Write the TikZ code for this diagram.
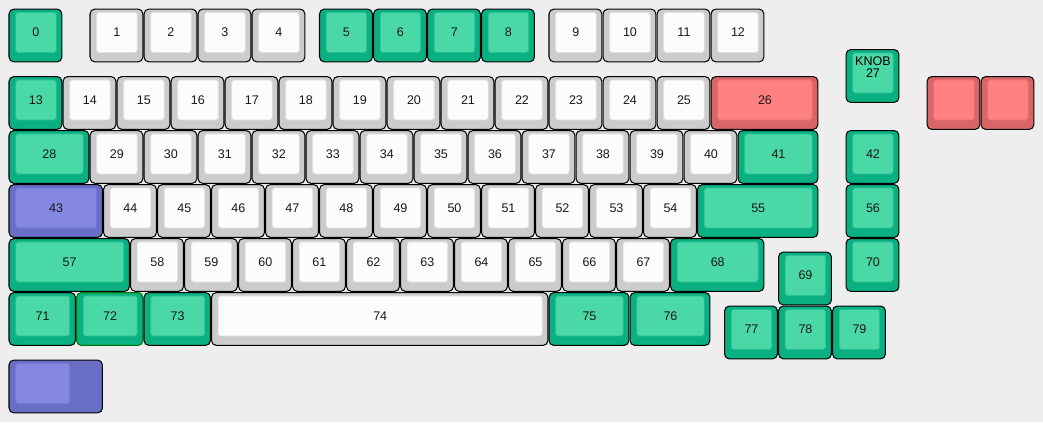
\documentclass[tikz,border=0pt]{standalone}
\usepackage{fontspec}
\setmainfont{Liberation Sans}
\usepackage{xcolor}
\usetikzlibrary{positioning}

\definecolor{bgc}{RGB}{238,238,238}
\definecolor{gro}{RGB}{10,176,130}
\definecolor{gri}{RGB}{74,216,166}
\definecolor{wto}{RGB}{204,204,204}
\definecolor{wti}{RGB}{252,252,252}
\definecolor{rdo}{RGB}{217,102,102}
\definecolor{rdi}{RGB}{255,128,128}
\definecolor{puo}{RGB}{104,110,196}
\definecolor{pui}{RGB}{132,136,224}

% one key: [extra] name, x, y, width, colour, text
\newcommand{\kcap}[7][]{%
 \node[ko,fill=#6o,minimum width=#5cm-0.02cm,#1] (#2) at (#3+0.167,-#4-0.167) {};
 \node[ki,fill=#6i,draw=#6o!55!#6i,minimum width=#5cm-0.25cm] (#2t) at ([xshift=0.124cm,yshift=-0.063cm]#2.north west) {#7};}

\begin{document}
\begin{tikzpicture}[x=1cm,y=1cm,
 ko/.style={draw=black,line width=0.55pt,rounded corners=2.6pt,anchor=north west,inner sep=0,outer sep=0,minimum height=0.98cm},
 ki/.style={line width=0.4pt,rounded corners=1pt,anchor=north west,inner sep=0,outer sep=0,minimum height=0.74cm,font=\fontsize{6.6}{7.6}\selectfont,text=black!90},
 lb/.style={font=\fontsize{6.6}{6.2}\selectfont,align=center,anchor=north,inner sep=0}]
 \fill[bgc] (0,0) rectangle (19.315,-7.815);
 \useasboundingbox (0,0) rectangle (19.315,-7.815);
 % row 0
 \kcap{k0}{0}{0}{1}{gr}{0}
 \foreach \n [evaluate=\n as \x using \n+0.5] in {1,...,4} {\kcap{k\n}{\x}{0}{1}{wt}{\n}}
 \foreach \n [evaluate=\n as \x using \n+0.75] in {5,...,8} {\kcap{k\n}{\x}{0}{1}{gr}{\n}}
 \foreach \n [evaluate=\n as \x using \n+1] in {9,...,12} {\kcap{k\n}{\x}{0}{1}{wt}{\n}}
 % row 1
 \kcap{k13}{0}{1.25}{1}{gr}{13}
 \foreach \n [evaluate=\n as \x using \n-13] in {14,...,25} {\kcap{k\n}{\x}{1.25}{1}{wt}{\n}}
 \kcap{k26}{13}{1.25}{2}{rd}{26}
 \kcap{k27}{15.5}{0.75}{1}{gr}{}
 \node[lb] (knob) at ([yshift=-0.07cm]k27t.north) {KNOB\\27};
 \kcap{kr1}{17}{1.25}{1}{rd}{}
 \kcap{kr2}{18}{1.25}{1}{rd}{}
 % row 2
 \kcap{k28}{0}{2.25}{1.5}{gr}{28}
 \foreach \n [evaluate=\n as \x using \n-27.5] in {29,...,40} {\kcap{k\n}{\x}{2.25}{1}{wt}{\n}}
 \kcap{k41}{13.5}{2.25}{1.5}{gr}{41}
 \kcap{k42}{15.5}{2.25}{1}{gr}{42}
 % row 3
 \kcap{k43}{0}{3.25}{1.75}{pu}{43}
 \foreach \n [evaluate=\n as \x using \n-42.25] in {44,...,54} {\kcap{k\n}{\x}{3.25}{1}{wt}{\n}}
 \kcap{k55}{12.75}{3.25}{2.25}{gr}{55}
 \kcap{k56}{15.5}{3.25}{1}{gr}{56}
 % row 4
 \kcap{k57}{0}{4.25}{2.25}{gr}{57}
 \foreach \n [evaluate=\n as \x using \n-55.75] in {58,...,67} {\kcap{k\n}{\x}{4.25}{1}{wt}{\n}}
 \kcap{k68}{12.25}{4.25}{1.75}{gr}{68}
 \kcap{k69}{14.25}{4.5}{1}{gr}{69}
 \kcap{k70}{15.5}{4.25}{1}{gr}{70}
 % row 5
 \kcap{k71}{0}{5.25}{1.25}{gr}{71}
 \kcap[draw=green!45!black]{k72}{1.25}{5.25}{1.25}{gr}{72}
 \kcap{k73}{2.5}{5.25}{1.25}{gr}{73}
 \kcap{k74}{3.75}{5.25}{6.25}{wt}{74}
 \kcap{k75}{10}{5.25}{1.5}{gr}{75}
 \kcap{k76}{11.5}{5.25}{1.5}{gr}{76}
 \foreach \n [evaluate=\n as \x using \n-63.75] in {77,78,79} {\kcap{k\n}{\x}{5.5}{1}{gr}{\n}}
 % stepped key
 \node[ko,fill=puo,minimum width=1.73cm] (kst) at (0.167,-6.667) {};
 \node[ki,fill=pui,draw=puo!55!pui,minimum width=1.0cm] (kstt) at ([xshift=0.124cm,yshift=-0.063cm]kst.north west) {};
\end{tikzpicture}
\end{document}
